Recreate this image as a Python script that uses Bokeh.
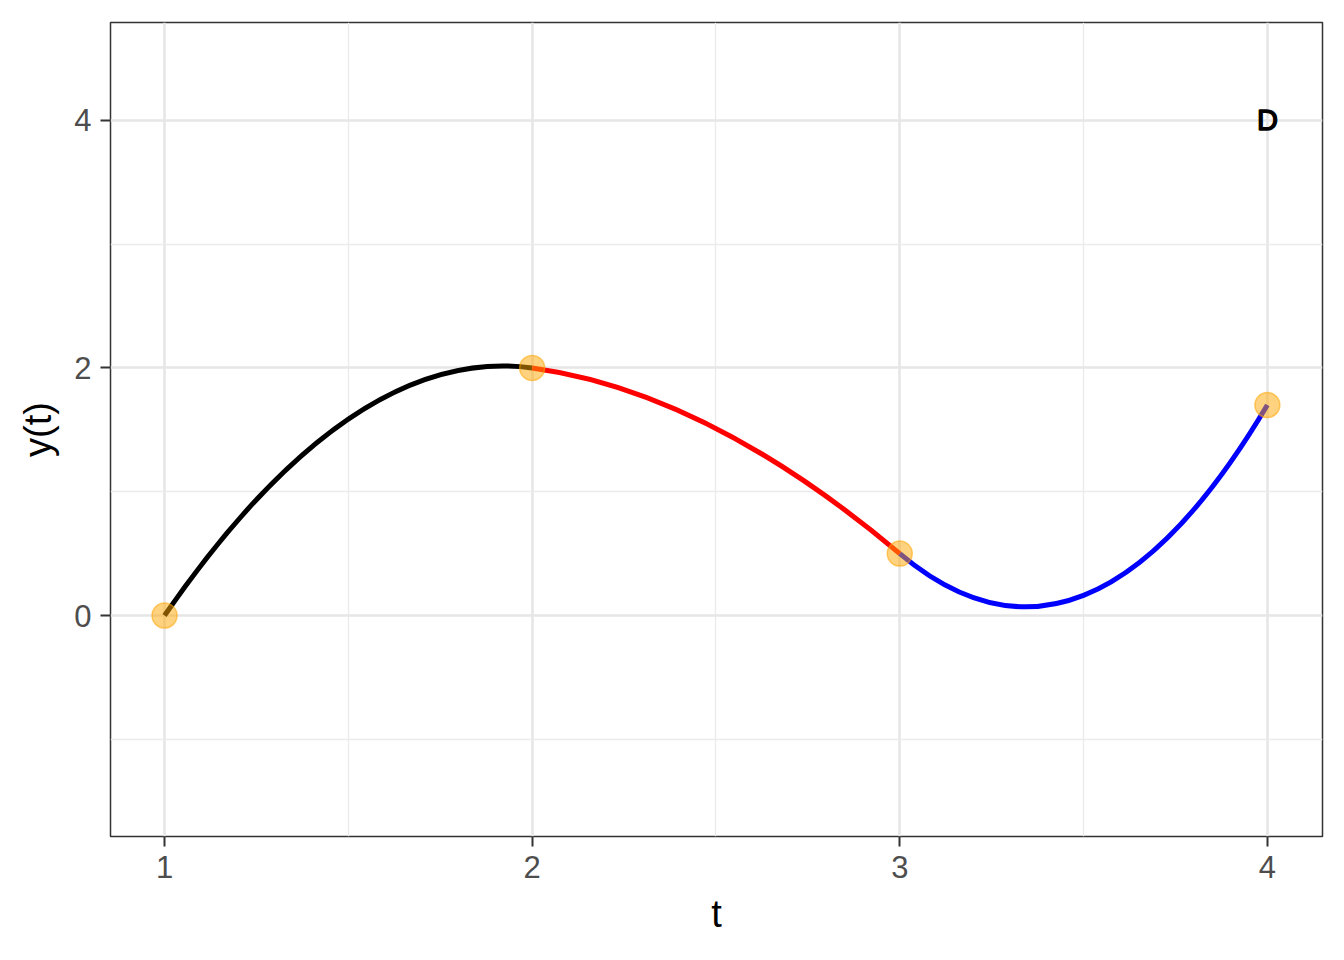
from bokeh.plotting import figure
from bokeh.models import Range1d, FixedTicker, Label
from bokeh.embed import file_html
from bokeh.resources import INLINE

# Knots of the piecewise curve
knot_t = [1, 2, 3, 4]
knot_y = [0.0, 2.0, 0.5, 1.7]
# Derivatives at the knots
slope_left = [4.3, -0.4, -2.5]   # slope at start of each segment
slope_right = [-0.4, -2.5, 5.0]  # slope at end of each segment
seg_colors = ["black", "red", "blue"]

x_ticks = [1, 2, 3, 4]
x_minor = [1.5, 2.5, 3.5]
y_ticks = [0, 2, 4]
y_minor = [-1, 1, 3]

label_text = "D"
label_pos = (4, 4)

FONT = "Liberation Sans"

p = figure(width=1328, height=944, output_backend="svg", toolbar_location=None,
           x_range=Range1d(0.853, 4.15), y_range=Range1d(-1.785, 4.79),
           min_border_left=110, min_border_right=6, min_border_top=22,
           min_border_bottom=108)

p.background_fill_color = "white"
p.border_fill_color = "white"
p.outline_line_color = "#333333"
p.outline_line_width = 1.5

p.xaxis.ticker = FixedTicker(ticks=x_ticks, minor_ticks=x_minor)
p.yaxis.ticker = FixedTicker(ticks=y_ticks, minor_ticks=y_minor)
p.xgrid.ticker = FixedTicker(ticks=x_ticks, minor_ticks=x_minor)
p.ygrid.ticker = FixedTicker(ticks=y_ticks, minor_ticks=y_minor)

for g in (p.xgrid, p.ygrid):
    g.grid_line_color = "#E6E6E6"
    g.grid_line_width = 2.6
    g.minor_grid_line_color = "#EBEBEB"
    g.minor_grid_line_width = 1.3

for ax in (p.xaxis, p.yaxis):
    ax.axis_line_color = None
    ax.major_tick_line_color = "#333333"
    ax.major_tick_line_width = 2
    ax.major_tick_out = 10
    ax.major_tick_in = 0
    ax.minor_tick_line_color = None
    ax.major_label_text_font = FONT
    ax.major_label_text_font_size = "31px"
    ax.major_label_text_color = "#4D4D4D"
    ax.major_label_standoff = 9
    ax.axis_label_text_font = FONT
    ax.axis_label_text_font_size = "38px"
    ax.axis_label_text_font_style = "normal"
    ax.axis_label_text_color = "black"
    ax.axis_label_standoff = 12

p.xaxis.axis_label = "t"
p.yaxis.axis_label = "y(t)"

# Cubic Hermite segments drawn as Bezier curves
for i in range(3):
    t0, t1 = knot_t[i], knot_t[i + 1]
    y0, y1 = knot_y[i], knot_y[i + 1]
    h = t1 - t0
    p.bezier(x0=[t0], y0=[y0], x1=[t1], y1=[y1],
             cx0=[t0 + h / 3], cy0=[y0 + slope_left[i] * h / 3],
             cx1=[t1 - h / 3], cy1=[y1 - slope_right[i] * h / 3],
             line_color=seg_colors[i], line_width=5)

p.scatter(knot_t, knot_y, size=25, fill_color="orange", fill_alpha=0.5,
          line_color="orange", line_alpha=0.55, line_width=1.5)

p.add_layout(Label(x=label_pos[0], y=label_pos[1], text=label_text,
                   text_align="center", text_baseline="middle",
                   text_font=FONT, text_font_size="29px", text_color="black",
                   text_outline_color="black"))

open("out.html", "w").write(file_html(p, INLINE))
